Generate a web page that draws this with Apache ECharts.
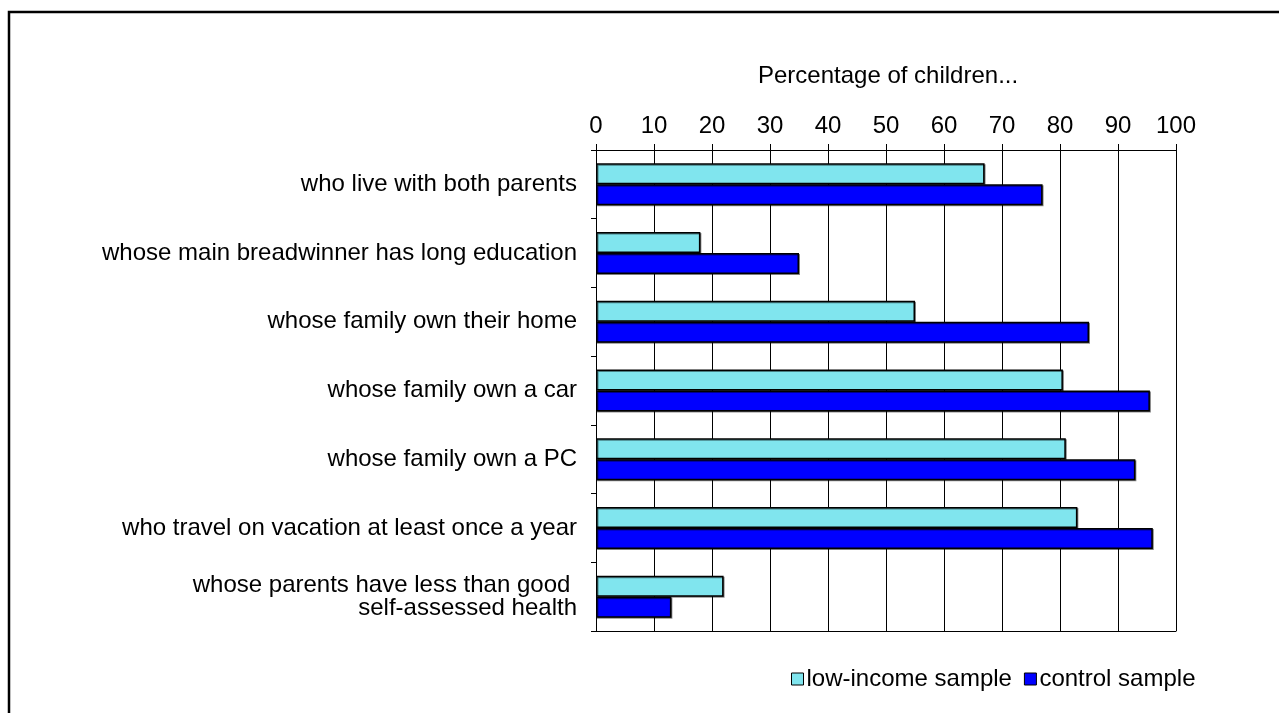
<!DOCTYPE html>
<html>
<head>
<meta charset="utf-8">
<script src="https://cdn.jsdelivr.net/npm/echarts@6/dist/echarts.min.js"></script>
<style>
  html, body { margin: 0; padding: 0; background: #fff; }
  #chart { width: 1279px; height: 713px; }
</style>
</head>
<body>
<div id="chart"></div>
<script>
// categories, top to bottom
const categories = [
  "who live with both parents",
  "whose main breadwinner has long education",
  "whose family own their home",
  "whose family own a car",
  "whose family own a PC",
  "who travel on vacation at least once a year",
  "whose parents have less than good \nself-assessed health"
];
const lowIncome = [67, 18, 55, 80.5, 81, 83, 22];
const control = [77, 35, 85, 95.5, 93, 96, 13];
const seriesNames = ["low-income sample", "control sample"];

const chart = echarts.init(document.getElementById("chart"));
const font = "Liberation Sans, Arial, sans-serif";
const fs = 24;

const barStyle = (color) => ({
  color: color,
  borderColor: "#000",
  borderWidth: 1.5,
  shadowColor: "rgba(0,0,0,0.45)",
  shadowOffsetX: 1,
  shadowOffsetY: 1
});

const option = {
  animation: false,
  textStyle: { fontFamily: font },
  graphic: [
    {
      type: "rect",
      shape: { x: 9, y: 12, width: 1400, height: 900 },
      style: { fill: "none", stroke: "#000", lineWidth: 2.5 }
    },
    {
      type: "text",
      left: 758,
      top: 64,
      style: { text: "Percentage of children...", fill: "#000", font: fs + "px " + font }
    }
  ],
  legend: {
    data: seriesNames,
    left: 786,
    top: 662,
    itemWidth: 12,
    itemHeight: 12,
    itemGap: 12,
    icon: "rect",
    itemStyle: { borderColor: "#000", borderWidth: 1 },
    textStyle: { fontSize: fs, color: "#000", fontFamily: font, padding: [0, 0, 0, -2] }
  },
  grid: { left: 596, right: 103, top: 150, bottom: 82 },
  xAxis: [
    {
      type: "value",
      position: "top",
      min: 0,
      max: 100,
      interval: 10,
      axisLine: { show: true, lineStyle: { color: "#000", width: 1 } },
      axisTick: { show: true, length: 6, lineStyle: { color: "#000" } },
      axisLabel: { color: "#000", fontSize: fs, margin: 12, fontFamily: font },
      splitLine: { show: true, lineStyle: { color: "#000", width: 1 } }
    },
    {
      type: "value",
      position: "bottom",
      min: 0,
      max: 100,
      interval: 10,
      axisLine: { show: true, lineStyle: { color: "#000", width: 1 } },
      axisTick: { show: false },
      axisLabel: { show: false },
      splitLine: { show: false }
    }
  ],
  yAxis: {
    type: "category",
    data: categories,
    inverse: true,
    axisLine: { show: true, lineStyle: { color: "#000", width: 1 } },
    axisTick: { show: true, length: 5, lineStyle: { color: "#000" } },
    axisLabel: {
      color: "#000",
      fontSize: fs,
      margin: 19,
      lineHeight: 23,
      align: "right",
      fontFamily: font
    },
    splitLine: { show: false }
  },
  series: [
    {
      name: seriesNames[0],
      type: "bar",
      xAxisIndex: 0,
      data: lowIncome,
      barWidth: 21,
      barGap: "0%",
      itemStyle: barStyle("#80E5EE")
    },
    {
      name: seriesNames[1],
      type: "bar",
      xAxisIndex: 0,
      data: control,
      barWidth: 21,
      barGap: "0%",
      itemStyle: barStyle("#0000FF")
    }
  ]
};

chart.setOption(option);
</script>
</body>
</html>
